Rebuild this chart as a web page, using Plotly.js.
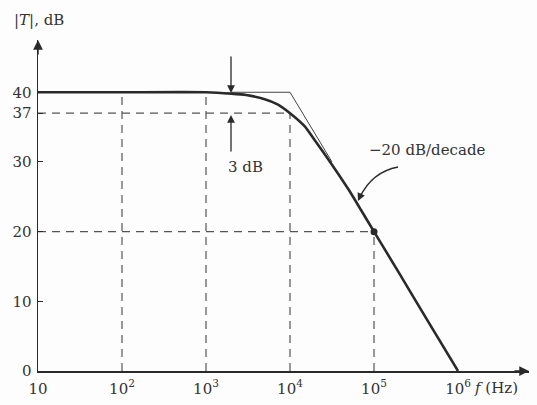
<!DOCTYPE html>
<html>
<head>
<meta charset="utf-8">
<script src="https://cdn.plot.ly/plotly-3.0.1.min.js"></script>
<style>html,body{margin:0;padding:0;background:#fdfdfd;}#chart{width:537px;height:405px;}</style>
</head>
<body>
<div id="chart"></div>
<script>
// Measured response |T| (dB) vs frequency (Hz)
const freqHz = [10, 100, 1000, 2000, 3000, 5000, 7000, 10000, 15000, 20000, 30000, 50000, 70000, 100000, 200000, 500000, 1000000];
const gainDb = [40, 40, 40, 39.8, 39.6, 39.0, 38.3, 37, 35.1, 33.0, 30.0, 26.0, 23.1, 20, 14, 6.0, 0];

// Straight-line asymptote
const asymF = [2000, 10000, 31600];
const asymDb = [40, 40, 30];

// Dashed guide lines (vertical: frequency, top level)
const guideF = [100, 1000, 10000, 100000];
const guideTop = [40, 40, 37, 20];
// Horizontal guides: level and frequency where it ends
const levelDb = [37, 20];
const levelEndF = [10000, 100000];

// Highlighted point
const pointF = [100000];
const pointDb = [20];

// Tick labels
const xTickVals = [10, 100, 1000, 10000, 100000, 1000000];
const xTickText = ['10', '10<sup>2</sup>', '10<sup>3</sup>', '10<sup>4</sup>', '10<sup>5</sup>', '10<sup>6</sup>'];
const yTickVals = [0, 10, 20, 30, 37, 40];
const yTickText = ['0', '10', '20', '30', '37', '40'];

const ink = '#2a2a2a';
const dashStyle = {color: '#555', width: 1.2, dash: '8px,6px'};
const traces = [];

guideF.forEach((f, i) => {
  traces.push({x: [f, f], y: [0, guideTop[i]], mode: 'lines', line: dashStyle, hoverinfo: 'skip', showlegend: false});
});
levelDb.forEach((d, i) => {
  traces.push({x: [xTickVals[0], levelEndF[i]], y: [d, d], mode: 'lines', line: dashStyle, hoverinfo: 'skip', showlegend: false});
});
traces.push({x: asymF, y: asymDb, mode: 'lines', line: {color: '#444', width: 1}, showlegend: false});
traces.push({x: freqHz, y: gainDb, mode: 'lines', line: {color: ink, width: 2.6, shape: 'spline', smoothing: 0.5}, showlegend: false});
traces.push({x: pointF, y: pointDb, mode: 'markers', marker: {color: ink, size: 7}, showlegend: false});

// paper coordinate helpers (plot area: left 38px, width 491px, bottom 371px, height 331px)
const px = v => (v - 38) / 491;
const py = v => (371 - v) / 331;
const fam = 'DejaVu Serif, Liberation Serif, serif';
const font = {family: fam, size: 15, color: '#333'};

const layout = {
  width: 537, height: 405,
  margin: {l: 38, r: 8, t: 40, b: 34},
  paper_bgcolor: '#fdfdfd', plot_bgcolor: '#fdfdfd',
  font: font,
  showlegend: false,
  xaxis: {
    type: 'log', range: [1, 6.845],
    tickvals: xTickVals, ticktext: xTickText,
    showgrid: false, zeroline: false,
    showline: true, linecolor: ink, linewidth: 1.5,
    ticks: '', ticklabelstandoff: 3,
    tickfont: font
  },
  yaxis: {
    range: [0, 47.5],
    tickvals: yTickVals, ticktext: yTickText,
    showgrid: false, zeroline: false,
    showline: true, linecolor: ink, linewidth: 1.5,
    ticks: 'inside', ticklen: 5, tickcolor: ink, tickwidth: 1,
    ticklabelstandoff: 2,
    tickfont: font
  },
  shapes: [
    {type: 'path', xref: 'paper', yref: 'paper',
     path: `M ${px(398)} ${py(167)} Q ${px(372)} ${py(172)} ${px(360)} ${py(197)}`,
     line: {color: ink, width: 1.3}}
  ],
  annotations: [
    // axis arrowheads
    {xref: 'paper', yref: 'paper', x: 1, y: 0, ax: -16, ay: 0, text: '', showarrow: true, arrowhead: 2, arrowsize: 1.3, arrowwidth: 1.5, arrowcolor: ink},
    {xref: 'paper', yref: 'paper', x: 0, y: 1, ax: 0, ay: 16, text: '', showarrow: true, arrowhead: 2, arrowsize: 1.3, arrowwidth: 1.5, arrowcolor: ink},
    // axis titles
    {xref: 'paper', yref: 'paper', x: px(12), y: py(20), xanchor: 'left', yanchor: 'middle', text: '|<i>T</i>|, dB', showarrow: false, font: {family: fam, size: 15, color: '#333'}},
    {xref: 'paper', yref: 'paper', x: px(472), y: py(388), xanchor: 'left', yanchor: 'middle', text: '<i>f</i> (Hz)', showarrow: false, font: {family: fam, size: 15, color: '#333'}},
    // 3 dB arrows
    {xref: 'paper', yref: 'paper', x: px(231), y: py(93), ax: 0, ay: -38, text: '', showarrow: true, arrowhead: 2, arrowsize: 1.2, arrowwidth: 1.3, arrowcolor: ink},
    {xref: 'paper', yref: 'paper', x: px(231), y: py(115), ax: 0, ay: 38, text: '', showarrow: true, arrowhead: 2, arrowsize: 1.2, arrowwidth: 1.3, arrowcolor: ink},
    {xref: 'paper', yref: 'paper', x: px(226), y: py(167), xanchor: 'left', yanchor: 'middle', text: '3 dB', showarrow: false, font: {family: fam, size: 15, color: '#333'}},
    // slope label
    {xref: 'paper', yref: 'paper', x: px(367), y: py(150), xanchor: 'left', yanchor: 'middle', text: '\u221220 dB/decade', showarrow: false, font: {family: fam, size: 15, color: '#333'}},
    {xref: 'paper', yref: 'paper', x: px(358), y: py(201), ax: 4, ay: -9, text: '', showarrow: true, arrowhead: 2, arrowsize: 1.2, arrowwidth: 1.3, arrowcolor: ink}
  ]
};

Plotly.newPlot('chart', traces, layout, {displayModeBar: false, staticPlot: true});
</script>
</body>
</html>
